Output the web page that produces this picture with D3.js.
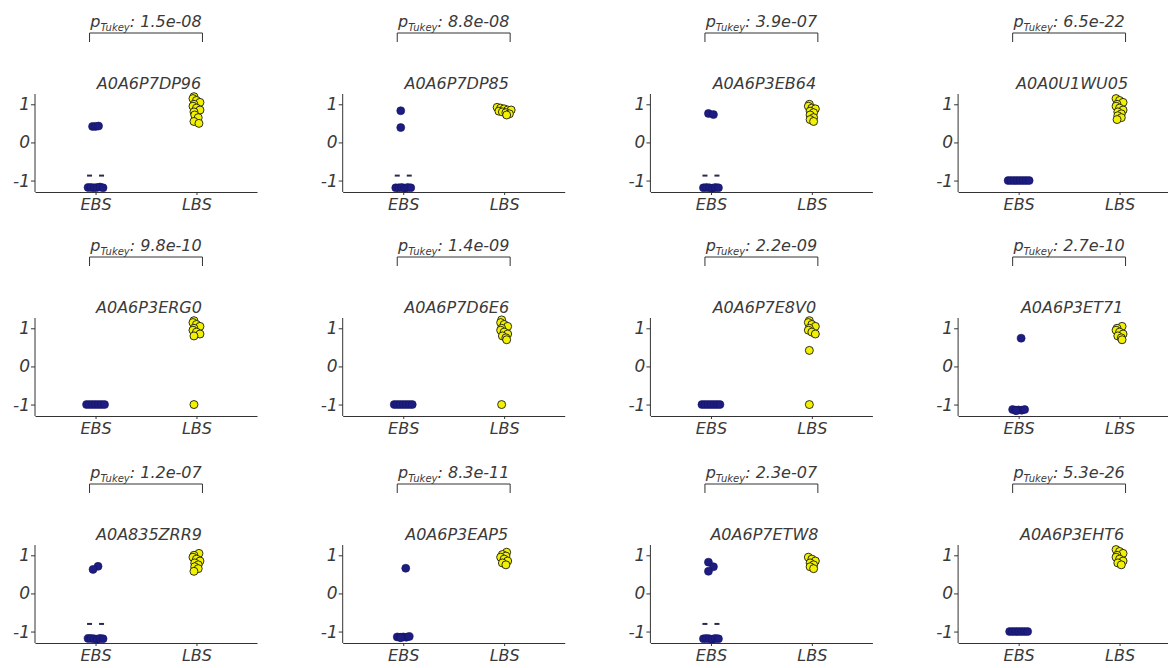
<!DOCTYPE html>
<html>
<head>
<meta charset="utf-8">
<script src="https://cdn.jsdelivr.net/npm/d3@7"></script>
<style>
  html, body { margin: 0; padding: 0; background: #fff; }
  svg { display: block; }
  text { font-family: "DejaVu Sans", Verdana, sans-serif; font-style: italic; fill: #3a3a3a; }
</style>
</head>
<body>
<svg id="chart" width="1168" height="668"></svg>
<script>
// Protein identifiers, one small multiple each (row-major, 4 per row)
const genes = [
  "A0A6P7DP96", "A0A6P7DP85", "A0A6P3EB64", "A0A0U1WU05",
  "A0A6P3ERG0", "A0A6P7D6E6", "A0A6P7E8V0", "A0A6P3ET71",
  "A0A835ZRR9", "A0A6P3EAP5", "A0A6P7ETW8", "A0A6P3EHT6"
];

// Tukey-adjusted p values between the two stages
const pValues = [
  "1.5e-08", "8.8e-08", "3.9e-07", "6.5e-22",
  "9.8e-10", "1.4e-09", "2.2e-09", "2.7e-10",
  "1.2e-07", "8.3e-11", "2.3e-07", "5.3e-26"
];

const groups = ["EBS", "LBS"];
const yTicks = [-1, 0, 1];

// Scaled abundance, EBS samples
const ebsValues = [
  [-1.18, -1.18, -1.19, -1.18, -1.17, -1.19, 0.42, 0.42, 0.43],
  [-1.19, -1.19, -1.18, -1.2, -1.18, -1.19, 0.83, 0.39],
  [-1.19, -1.18, -1.19, -1.2, -1.18, -1.19, 0.76, 0.73],
  [-1.0, -1.0, -1.0, -1.0, -1.0, -1.0, -1.0, -1.0],
  [-1.0, -1.0, -1.0, -1.0, -1.0, -1.0, -1.0],
  [-1.0, -1.0, -1.0, -1.0, -1.0, -1.0, -1.0],
  [-1.0, -1.0, -1.0, -1.0, -1.0, -1.0, -1.0],
  [-1.13, -1.15, -1.16, -1.14, -1.15, -1.13, 0.74],
  [-1.18, -1.18, -1.19, -1.2, -1.18, -1.19, 0.71, 0.63],
  [-1.14, -1.15, -1.16, -1.14, -1.15, -1.13, 0.66],
  [-1.19, -1.18, -1.19, -1.2, -1.18, -1.19, 0.82, 0.7, 0.58],
  [-1.0, -1.0, -1.0, -1.0, -1.0, -1.0, -1.0]
];

// Scaled abundance, LBS samples
const lbsValues = [
  [1.2, 1.15, 1.1, 1.05, 1.0, 0.95, 0.9, 0.85, 0.8, 0.72, 0.65, 0.55, 0.5],
  [0.92, 0.9, 0.88, 0.85, 0.85, 0.82, 0.8, 0.78, 0.75, 0.72],
  [1.0, 0.95, 0.9, 0.88, 0.82, 0.78, 0.72, 0.65, 0.6, 0.55],
  [1.15, 1.1, 1.05, 1.0, 0.95, 0.9, 0.85, 0.8, 0.75, 0.7, 0.65, 0.6],
  [1.2, 1.15, 1.1, 1.05, 1.0, 0.95, 0.9, 0.85, 0.8, -1.0],
  [1.22, 1.15, 1.1, 1.05, 1.0, 0.95, 0.9, 0.85, 0.8, 0.75, 0.7, -1.0],
  [1.2, 1.15, 1.1, 1.05, 1.0, 0.95, 0.9, 0.85, 0.42, -1.0],
  [1.05, 1.0, 0.95, 0.9, 0.85, 0.8, 0.75, 0.7],
  [1.05, 1.0, 0.95, 0.9, 0.85, 0.8, 0.75, 0.7, 0.65, 0.58],
  [1.08, 1.02, 0.98, 0.95, 0.9, 0.85, 0.8, 0.75],
  [0.95, 0.9, 0.85, 0.8, 0.75, 0.7, 0.65],
  [1.15, 1.1, 1.05, 1.0, 0.95, 0.9, 0.85, 0.8, 0.75]
];

// Short dash markers above the low EBS cluster (null where absent)
const ebsDash = [
  -0.87, -0.87, -0.87, null,
  null, null, null, null,
  -0.8, null, -0.8, null
];

// ---- layout ----
const nCols = 4;
const colLeft = d3.range(nCols).map(c => 35 + 307.7 * c);
const rowTop = [94, 318, 545];
const panelW = 222, panelH = 98;
const yDomain = [-1.3, 1.27];
const ebsColor = "#1c1c82", lbsColor = "#f2f200";

const svg = d3.select("#chart");

const x = d3.scalePoint().domain(groups).range([0, panelW]).padding(0.6);
const y = d3.scaleLinear().domain(yDomain).range([panelH, 0]);

// horizontal dodge for points that share a value band
function dodge(values, step, band) {
  const buckets = d3.group(values.map((v, i) => ({ v, i })), d => Math.round(d.v / band));
  const out = [];
  buckets.forEach((items, key) => {
    const n = items.length;
    const shift = n === 1 ? ((key % 2) ? 2.5 : -2.5) : 0;
    items.forEach((d, k) => out.push({ v: d.v, dx: (k - (n - 1) / 2) * step + shift }));
  });
  return out;
}

genes.forEach((gene, idx) => {
  const c = idx % nCols, r = Math.floor(idx / nCols);
  const g = svg.append("g").attr("transform", `translate(${colLeft[c]},${rowTop[r]})`);

  // y axis
  const yAxis = g.append("g").call(d3.axisLeft(y).tickValues(yTicks).tickSize(4).tickFormat(d3.format("d")));
  yAxis.select(".domain").attr("d", `M0,${y(yDomain[0])}V${y(yDomain[1])}`).attr("stroke", "#333");
  yAxis.selectAll(".tick line").attr("stroke", "#333");
  yAxis.selectAll(".tick text").attr("x", -5).style("font-size", "17px").attr("fill", "#3a3a3a")
    .text(d => d < 0 ? "-" + Math.abs(d) : d);

  // x axis
  const xAxis = g.append("g").attr("transform", `translate(0,${panelH})`)
    .call(d3.axisBottom(x).tickSize(3).tickSizeOuter(0));
  xAxis.select(".domain").attr("stroke", "#333");
  xAxis.selectAll(".tick line").attr("stroke", "#333");
  xAxis.selectAll(".tick text").attr("y", 7).style("font-size", "16px").attr("fill", "#3a3a3a");

  // points
  const ebs = dodge(ebsValues[idx], 3, 0.1);
  const lbs = dodge(lbsValues[idx], 3.5, 0.1);

  g.selectAll("circle.ebs").data(ebs).join("circle")
    .attr("class", "ebs")
    .attr("cx", d => x("EBS") + d.dx)
    .attr("cy", d => y(d.v))
    .attr("r", 4)
    .attr("fill", ebsColor)
    .attr("stroke", "#14145e")
    .attr("stroke-width", 0.6);

  g.selectAll("circle.lbs").data(lbs).join("circle")
    .attr("class", "lbs")
    .attr("cx", d => x("LBS") + d.dx)
    .attr("cy", d => y(d.v))
    .attr("r", 4)
    .attr("fill", lbsColor)
    .attr("stroke", "#1a1a1a")
    .attr("stroke-width", 0.9);

  if (ebsDash[idx] !== null) {
    [-6, 6].forEach(off => {
      g.append("line")
        .attr("x1", x("EBS") + off - 2.5).attr("x2", x("EBS") + off + 2.5)
        .attr("y1", y(ebsDash[idx])).attr("y2", y(ebsDash[idx]))
        .attr("stroke", "#2a2a50").attr("stroke-width", 2);
    });
  }

  // panel title
  g.append("text")
    .attr("x", (x("EBS") + x("LBS")) / 2 + 3)
    .attr("y", -5)
    .attr("text-anchor", "middle")
    .style("font-size", "16px")
    .text(gene);

  // significance bracket
  const bx1 = x("EBS") - 6, bx2 = x("LBS") + 6, bTop = -61, bLeg = -52;
  g.append("path")
    .attr("d", `M${bx1},${bLeg}V${bTop}H${bx2}V${bLeg}`)
    .attr("fill", "none").attr("stroke", "#333").attr("stroke-width", 1);

  const pl = g.append("text")
    .attr("x", (x("EBS") + x("LBS")) / 2)
    .attr("y", -67)
    .attr("text-anchor", "middle")
    .style("font-size", "16px");
  pl.append("tspan").text("p");
  pl.append("tspan").attr("dy", 4).style("font-size", "10px").text("Tukey");
  pl.append("tspan").attr("dy", -4).text(": " + pValues[idx]);
});
</script>
</body>
</html>
